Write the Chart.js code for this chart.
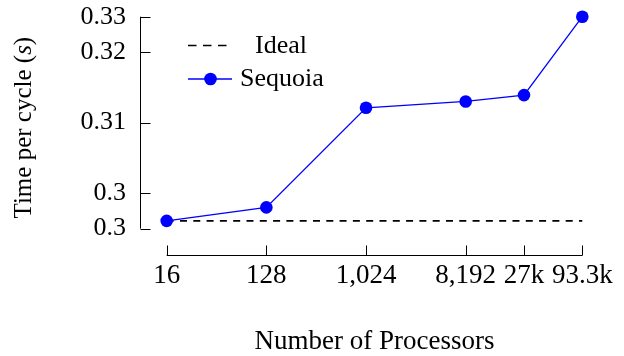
<!DOCTYPE html>
<html>
<head>
<meta charset="utf-8">
<title>Time per cycle - Sequoia</title>
<script src="https://cdn.jsdelivr.net/npm/chart.js@4"></script>
<style>
  html, body { margin: 0; padding: 0; background: #fff; }
  #wrap { width: 624px; height: 356px; }
</style>
</head>
<body>
<div id="wrap"><canvas id="timeChart" width="624" height="356"></canvas></div>
<script>
// data
const processors = [16, 128, 1024, 8192, 27648, 93300];
const processorLabels = ["16", "128", "1,024", "8,192", "27k", "93.3k"];
const sequoiaTime = [0.2961, 0.2980, 0.3121, 0.3130, 0.3139, 0.3250];
const idealTime = [0.2961, 0.2961, 0.2961, 0.2961, 0.2961, 0.2961];
const yTickValues = [0.295, 0.30, 0.31, 0.32, 0.325];
const yTickLabels = ["0.3", "0.3", "0.31", "0.32", "0.33"];

const FONT = "'Liberation Serif', 'Times New Roman', serif";

// pgfplots-like axes: detached lines with inward ticks, legend and axis titles
const pgfAxes = {
    id: "pgfAxes",
    afterDraw(chart) {
        const { ctx, chartArea, scales: { x, y } } = chart;
        ctx.save();
        ctx.strokeStyle = "#000";
        ctx.lineWidth = 1;

        // y axis
        const yx = Math.round(chartArea.left) + 0.5;
        const yTop = y.getPixelForValue(yTickValues[yTickValues.length - 1]);
        const yBot = y.getPixelForValue(yTickValues[0]);
        ctx.beginPath();
        ctx.moveTo(yx, yTop);
        ctx.lineTo(yx, yBot);
        yTickValues.forEach(v => {
            const py = Math.round(y.getPixelForValue(v)) + 0.5;
            ctx.moveTo(yx, py);
            ctx.lineTo(yx + 10, py);
        });
        ctx.stroke();

        // x axis
        const xy = Math.round(chartArea.bottom + 26) + 0.5;
        const xL = x.getPixelForValue(processors[0]);
        const xR = x.getPixelForValue(processors[processors.length - 1]);
        ctx.beginPath();
        ctx.moveTo(xL, xy);
        ctx.lineTo(xR, xy);
        processors.forEach(v => {
            const px = Math.round(x.getPixelForValue(v)) + 0.5;
            ctx.moveTo(px, xy);
            ctx.lineTo(px, xy - 10);
        });
        ctx.stroke();

        // x title
        ctx.fillStyle = "#000";
        ctx.font = `27px ${FONT}`;
        ctx.textAlign = "center";
        ctx.textBaseline = "alphabetic";
        ctx.fillText("Number of Processors", (xL + xR) / 2, 349);

        // y title with italic s
        ctx.save();
        ctx.translate(31, (yTop + yBot) / 2 + 5);
        ctx.rotate(-Math.PI / 2);
        const parts = [["Time per cycle (", "normal"], ["s", "italic"], [")", "normal"]];
        let total = 0;
        parts.forEach(p => {
            ctx.font = `${p[1]} 25px ${FONT}`;
            total += ctx.measureText(p[0]).width;
        });
        let cx = -total / 2;
        ctx.textAlign = "left";
        parts.forEach(p => {
            ctx.font = `${p[1]} 25px ${FONT}`;
            ctx.fillText(p[0], cx, 0);
            cx += ctx.measureText(p[0]).width;
        });
        ctx.restore();

        // legend
        ctx.font = `26px ${FONT}`;
        ctx.textAlign = "center";
        const ideal = chart.data.datasets[0];
        ctx.beginPath();
        ctx.setLineDash([8.5, 6.5]);
        ctx.strokeStyle = ideal.borderColor;
        ctx.lineWidth = ideal.borderWidth;
        ctx.moveTo(188, 45.5);
        ctx.lineTo(228, 45.5);
        ctx.stroke();
        ctx.setLineDash([]);
        ctx.fillText(ideal.label, 281, 53);

        const seq = chart.data.datasets[1];
        ctx.beginPath();
        ctx.strokeStyle = seq.borderColor;
        ctx.lineWidth = seq.borderWidth;
        ctx.moveTo(188, 79);
        ctx.lineTo(232, 79);
        ctx.stroke();
        ctx.beginPath();
        ctx.fillStyle = seq.pointBackgroundColor;
        ctx.arc(210.5, 79, seq.pointRadius, 0, Math.PI * 2);
        ctx.fill();
        ctx.fillStyle = "#000";
        ctx.fillText(seq.label, 282, 86);

        ctx.restore();
    }
};

const ctx = document.getElementById("timeChart").getContext("2d");
const timeChart = new Chart(ctx, {
    type: "line",
    data: {
        datasets: [
            {
                label: "Ideal",
                data: processors.map((p, i) => ({ x: p, y: idealTime[i] })),
                borderColor: "#000",
                borderWidth: 1.6,
                borderDash: [7, 6.3],
                pointRadius: 0,
                order: 1,
                clip: false
            },
            {
                label: "Sequoia",
                data: processors.map((p, i) => ({ x: p, y: sequoiaTime[i] })),
                borderColor: "#0000ff",
                backgroundColor: "#0000ff",
                pointBackgroundColor: "#0000ff",
                borderWidth: 1.3,
                pointRadius: 6.3,
                pointBorderWidth: 0,
                tension: 0,
                order: 0,
                clip: false
            }
        ]
    },
    options: {
        responsive: false,
        animation: false,
        layout: { padding: { left: 0, right: 41.7, top: 16.7, bottom: 0 } },
        plugins: {
            legend: { display: false },
            tooltip: { enabled: false }
        },
        scales: {
            x: {
                type: "logarithmic",
                bounds: "data",
                min: 9.17,
                max: 93300,
                grid: { display: false },
                border: { display: false },
                afterFit: scale => {
                    scale.height = 127.4;
                    scale.paddingLeft = 0;
                    scale.paddingRight = 0;
                },
                afterBuildTicks: scale => {
                    scale.ticks = processors.map(v => ({ value: v }));
                },
                ticks: {
                    autoSkip: false,
                    maxRotation: 0,
                    padding: 23,
                    color: "#000",
                    font: { family: FONT, size: 27 },
                    callback: (v, i) => processorLabels[i]
                }
            },
            y: {
                type: "linear",
                min: 0.295,
                max: 0.325,
                grid: { display: false },
                border: { display: false },
                afterFit: scale => {
                    scale.width = 140;
                    scale.paddingTop = 0;
                    scale.paddingBottom = 0;
                },
                afterBuildTicks: scale => {
                    scale.ticks = yTickValues.map(v => ({ value: v }));
                },
                ticks: {
                    padding: 6,
                    color: "#000",
                    font: { family: FONT, size: 26 },
                    callback: (v, i) => yTickLabels[i]
                }
            }
        }
    },
    plugins: [pgfAxes]
});
</script>
</body>
</html>
